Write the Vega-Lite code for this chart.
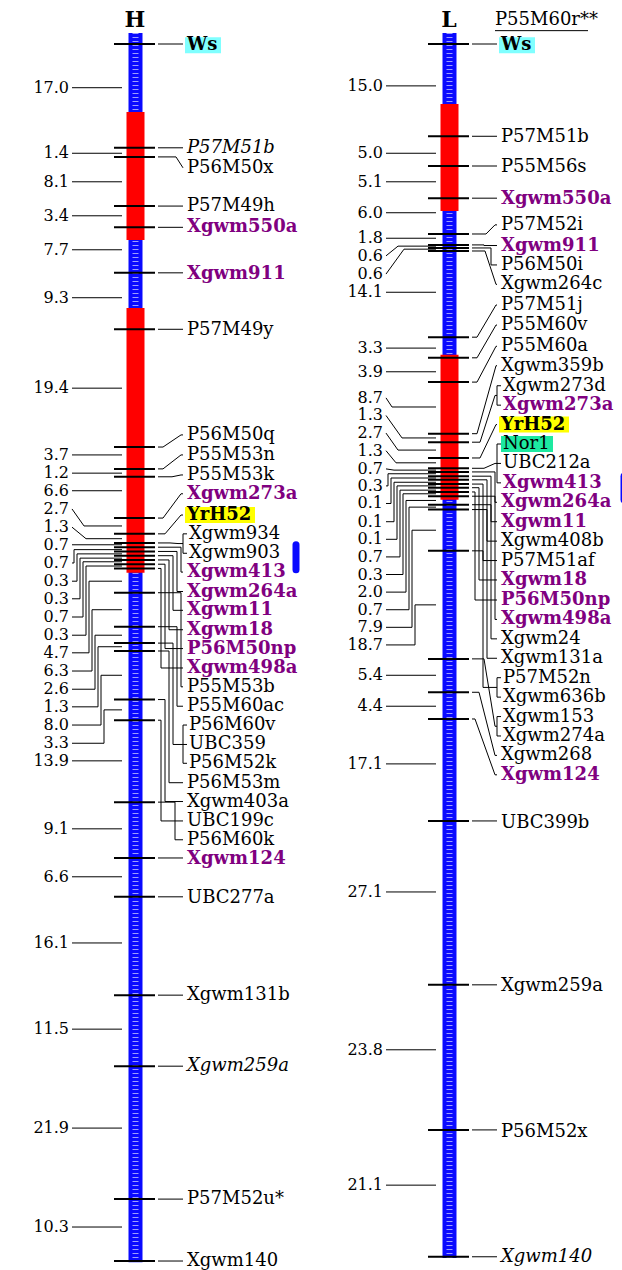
{
"$schema": "https://vega.github.io/schema/vega-lite/v6.json",
"padding": 0,
"spacing": 0,
"background": "white",
"config": {"view": {"stroke": null}, "text": {"font": "DejaVu Serif"}},
"data": {"values": [
{"kind":"bar","chrom":"H","y":-1.8,"y2":200.7},
{"kind":"bar","chrom":"L","y":-1.8,"y2":200.0},
{"kind":"red","chrom":"H","y":11.2,"y2":32.3},
{"kind":"red","chrom":"H","y":43.5,"y2":87.1},
{"kind":"red","chrom":"L","y":9.9,"y2":27.5},
{"kind":"red","chrom":"L","y":51.2,"y2":75.1},
{"kind":"qtl","chrom":"H","y":82.5,"y2":86.6},
{"kind":"qtl","chrom":"L","y":71.2,"y2":75.1},
{"kind":"chr","chrom":"H","name":"H","y":-3.9},
{"kind":"chr","chrom":"L","name":"L","y":-3.9},
{"kind":"note","chrom":"L","name":"P55M60r**","y":-3.9},

{"kind":"m","chrom":"H","y":0},
{"kind":"m","chrom":"H","y":17.1},
{"kind":"m","chrom":"H","y":18.6,"tgt":20.4,"e1":176,"e2":183},
{"kind":"m","chrom":"H","y":26.7},
{"kind":"m","chrom":"H","y":30.2},
{"kind":"m","chrom":"H","y":37.7},
{"kind":"m","chrom":"H","y":47.0},
{"kind":"m","chrom":"H","y":66.4,"tgt":64.4,"e1":163,"e2":181},
{"kind":"m","chrom":"H","y":70.0,"tgt":67.7,"e1":163,"e2":181},
{"kind":"m","chrom":"H","y":71.3,"tgt":71.0,"e1":172,"e2":181},
{"kind":"m","chrom":"H","y":78.1,"tgt":74.1,"e1":163,"e2":181},
{"kind":"m","chrom":"H","y":80.7,"tgt":77.6,"e1":165,"e2":181},
{"kind":"m","chrom":"H","y":82.2,"tgt":82.3,"e1":170,"e2":178},
{"kind":"m","chrom":"H","y":82.9,"tgt":87.0,"e":181},
{"kind":"m","chrom":"H","y":83.6,"tgt":90.2,"e":177},
{"kind":"m","chrom":"H","y":84.3,"tgt":93.3,"e":173},
{"kind":"m","chrom":"H","y":85.0,"tgt":96.5,"e":169},
{"kind":"m","chrom":"H","y":85.7,"tgt":99.6,"e":165},
{"kind":"m","chrom":"H","y":86.4,"tgt":102.8,"e":161},
{"kind":"m","chrom":"H","y":90.4,"tgt":105.9,"e":181},
{"kind":"m","chrom":"H","y":96.0,"tgt":109.1,"e":177},
{"kind":"m","chrom":"H","y":98.7,"tgt":115.4,"e":173},
{"kind":"m","chrom":"H","y":100.0,"tgt":121.7,"e":169},
{"kind":"m","chrom":"H","y":108.0,"tgt":124.8,"e":165},
{"kind":"m","chrom":"H","y":111.4,"tgt":128.0,"e":161},
{"kind":"m","chrom":"H","y":124.9,"tgt":131.1,"e":175},
{"kind":"m","chrom":"H","y":134.1},
{"kind":"m","chrom":"H","y":140.5},
{"kind":"m","chrom":"H","y":156.7},
{"kind":"m","chrom":"H","y":168.4},
{"kind":"m","chrom":"H","y":190.3},
{"kind":"m","chrom":"H","y":200.5},

{"kind":"m","chrom":"L","y":0},
{"kind":"m","chrom":"L","y":15.2},
{"kind":"m","chrom":"L","y":20.1},
{"kind":"m","chrom":"L","y":25.4},
{"kind":"m","chrom":"L","y":31.3,"tgt":29.8,"e1":172,"e2":181},
{"kind":"m","chrom":"L","y":33.1,"tgt":33.2},
{"kind":"m","chrom":"L","y":33.6,"tgt":36.4,"e":177},
{"kind":"m","chrom":"L","y":34.1,"tgt":39.6,"e1":171,"e2":182},
{"kind":"m","chrom":"L","y":48.3,"tgt":43.0,"e1":163,"e2":182},
{"kind":"m","chrom":"L","y":51.7,"tgt":46.3,"e1":163,"e2":182},
{"kind":"m","chrom":"L","y":55.7,"tgt":49.8,"e1":163,"e2":182},
{"kind":"m","chrom":"L","y":64.2,"tgt":53.0,"e1":163,"e2":182},
{"kind":"m","chrom":"L","y":65.6,"tgt":57.9,"e1":166,"e2":181},
{"kind":"m","chrom":"L","y":68.2,"tgt":62.7,"e1":166,"e2":182},
{"kind":"m","chrom":"L","y":69.9,"tgt":69.1,"e1":170,"e2":181},
{"kind":"m","chrom":"L","y":70.5,"tgt":75.5,"e":181},
{"kind":"m","chrom":"L","y":71.2,"tgt":78.7,"e":177},
{"kind":"m","chrom":"L","y":71.8,"tgt":81.9,"e":173},
{"kind":"m","chrom":"L","y":72.5,"tgt":85.1,"e":169},
{"kind":"m","chrom":"L","y":73.1,"tgt":88.3,"e":165},
{"kind":"m","chrom":"L","y":73.8,"tgt":91.6,"e":161},
{"kind":"m","chrom":"L","y":74.5,"tgt":94.8,"e":181},
{"kind":"m","chrom":"L","y":75.9,"tgt":98.0,"e":177},
{"kind":"m","chrom":"L","y":76.7,"tgt":101.2,"e":173},
{"kind":"m","chrom":"L","y":83.5,"tgt":106.0,"e":169},
{"kind":"m","chrom":"L","y":101.3,"tgt":112.4,"e1":170,"e2":181},
{"kind":"m","chrom":"L","y":106.8,"tgt":117.2,"e1":165,"e2":181},
{"kind":"m","chrom":"L","y":111.2,"tgt":120.4,"e1":161,"e2":181},
{"kind":"m","chrom":"L","y":128.0},
{"kind":"m","chrom":"L","y":155.0},
{"kind":"m","chrom":"L","y":178.9},
{"kind":"m","chrom":"L","y":199.8},

{"kind":"lab","chrom":"H","name":"Ws","y":0.2,"type":"ws"},
{"kind":"lab","chrom":"H","name":"P57M51b","y":17.1,"type":"italic"},
{"kind":"lab","chrom":"H","name":"P56M50x","y":20.4,"type":"plain"},
{"kind":"lab","chrom":"H","name":"P57M49h","y":26.7,"type":"plain"},
{"kind":"lab","chrom":"H","name":"Xgwm550a","y":30.1,"type":"ssr"},
{"kind":"lab","chrom":"H","name":"Xgwm911","y":37.9,"type":"ssr"},
{"kind":"lab","chrom":"H","name":"P57M49y","y":47.1,"type":"plain"},
{"kind":"lab","chrom":"H","name":"P56M50q","y":64.4,"type":"plain"},
{"kind":"lab","chrom":"H","name":"P55M53n","y":67.7,"type":"plain"},
{"kind":"lab","chrom":"H","name":"P55M53k","y":71.0,"type":"plain"},
{"kind":"lab","chrom":"H","name":"Xgwm273a","y":74.1,"type":"ssr"},
{"kind":"lab","chrom":"H","name":"YrH52","y":77.6,"type":"yr"},
{"kind":"lab","chrom":"H","name":"Xgwm934","y":80.7,"type":"plain","grp":"a"},
{"kind":"lab","chrom":"H","name":"Xgwm903","y":83.9,"type":"plain","grp":"a"},
{"kind":"lab","chrom":"H","name":"Xgwm413","y":87.0,"type":"ssr"},
{"kind":"lab","chrom":"H","name":"Xgwm264a","y":90.2,"type":"ssr"},
{"kind":"lab","chrom":"H","name":"Xgwm11","y":93.3,"type":"ssr"},
{"kind":"lab","chrom":"H","name":"Xgwm18","y":96.5,"type":"ssr"},
{"kind":"lab","chrom":"H","name":"P56M50np","y":99.6,"type":"ssr"},
{"kind":"lab","chrom":"H","name":"Xgwm498a","y":102.8,"type":"ssr"},
{"kind":"lab","chrom":"H","name":"P55M53b","y":105.9,"type":"plain"},
{"kind":"lab","chrom":"H","name":"P55M60ac","y":109.1,"type":"plain"},
{"kind":"lab","chrom":"H","name":"P56M60v","y":112.2,"type":"plain","grp":"b"},
{"kind":"lab","chrom":"H","name":"UBC359","y":115.4,"type":"plain","grp":"b"},
{"kind":"lab","chrom":"H","name":"P56M52k","y":118.5,"type":"plain","grp":"b"},
{"kind":"lab","chrom":"H","name":"P56M53m","y":121.7,"type":"plain"},
{"kind":"lab","chrom":"H","name":"Xgwm403a","y":124.8,"type":"plain"},
{"kind":"lab","chrom":"H","name":"UBC199c","y":128.0,"type":"plain"},
{"kind":"lab","chrom":"H","name":"P56M60k","y":131.1,"type":"plain"},
{"kind":"lab","chrom":"H","name":"Xgwm124","y":134.3,"type":"ssr"},
{"kind":"lab","chrom":"H","name":"UBC277a","y":140.7,"type":"plain"},
{"kind":"lab","chrom":"H","name":"Xgwm131b","y":156.7,"type":"plain"},
{"kind":"lab","chrom":"H","name":"Xgwm259a","y":168.4,"type":"italic"},
{"kind":"lab","chrom":"H","name":"P57M52u*","y":190.3,"type":"plain"},
{"kind":"lab","chrom":"H","name":"Xgwm140","y":200.5,"type":"plain"},

{"kind":"lab","chrom":"L","name":"Ws","y":0.2,"type":"ws"},
{"kind":"lab","chrom":"L","name":"P57M51b","y":15.3,"type":"plain"},
{"kind":"lab","chrom":"L","name":"P55M56s","y":20.3,"type":"plain"},
{"kind":"lab","chrom":"L","name":"Xgwm550a","y":25.5,"type":"ssr"},
{"kind":"lab","chrom":"L","name":"P57M52i","y":29.8,"type":"plain"},
{"kind":"lab","chrom":"L","name":"Xgwm911","y":33.2,"type":"ssr"},
{"kind":"lab","chrom":"L","name":"P56M50i","y":36.4,"type":"plain"},
{"kind":"lab","chrom":"L","name":"Xgwm264c","y":39.6,"type":"plain"},
{"kind":"lab","chrom":"L","name":"P57M51j","y":43.0,"type":"plain"},
{"kind":"lab","chrom":"L","name":"P55M60v","y":46.3,"type":"plain"},
{"kind":"lab","chrom":"L","name":"P55M60a","y":49.8,"type":"plain"},
{"kind":"lab","chrom":"L","name":"Xgwm359b","y":53.0,"type":"plain"},
{"kind":"lab","chrom":"L","name":"Xgwm273d","y":56.3,"type":"plain","grp":"c"},
{"kind":"lab","chrom":"L","name":"Xgwm273a","y":59.5,"type":"ssr","grp":"c"},
{"kind":"lab","chrom":"L","name":"YrH52","y":62.7,"type":"yr"},
{"kind":"lab","chrom":"L","name":"Nor1","y":65.9,"type":"nor","grp":"d"},
{"kind":"lab","chrom":"L","name":"UBC212a","y":69.1,"type":"plain","grp":"d"},
{"kind":"lab","chrom":"L","name":"Xgwm413","y":72.3,"type":"ssr","grp":"d"},
{"kind":"lab","chrom":"L","name":"Xgwm264a","y":75.5,"type":"ssr"},
{"kind":"lab","chrom":"L","name":"Xgwm11","y":78.7,"type":"ssr"},
{"kind":"lab","chrom":"L","name":"Xgwm408b","y":81.9,"type":"plain"},
{"kind":"lab","chrom":"L","name":"P57M51af","y":85.1,"type":"plain"},
{"kind":"lab","chrom":"L","name":"Xgwm18","y":88.3,"type":"ssr"},
{"kind":"lab","chrom":"L","name":"P56M50np","y":91.6,"type":"ssr"},
{"kind":"lab","chrom":"L","name":"Xgwm498a","y":94.8,"type":"ssr"},
{"kind":"lab","chrom":"L","name":"Xgwm24","y":98.0,"type":"plain"},
{"kind":"lab","chrom":"L","name":"Xgwm131a","y":101.2,"type":"plain"},
{"kind":"lab","chrom":"L","name":"P57M52n","y":104.4,"type":"plain","grp":"e"},
{"kind":"lab","chrom":"L","name":"Xgwm636b","y":107.6,"type":"plain","grp":"e"},
{"kind":"lab","chrom":"L","name":"Xgwm153","y":110.8,"type":"plain","grp":"f"},
{"kind":"lab","chrom":"L","name":"Xgwm274a","y":114.0,"type":"plain","grp":"f"},
{"kind":"lab","chrom":"L","name":"Xgwm268","y":117.2,"type":"plain"},
{"kind":"lab","chrom":"L","name":"Xgwm124","y":120.4,"type":"ssr"},
{"kind":"lab","chrom":"L","name":"UBC399b","y":128.3,"type":"plain"},
{"kind":"lab","chrom":"L","name":"Xgwm259a","y":155.2,"type":"plain"},
{"kind":"lab","chrom":"L","name":"P56M52x","y":179.2,"type":"plain"},
{"kind":"lab","chrom":"L","name":"Xgwm140","y":199.8,"type":"italic"},

{"kind":"iv","chrom":"H","d":"17.0","y":7.2},
{"kind":"iv","chrom":"H","d":"1.4","y":18.0},
{"kind":"iv","chrom":"H","d":"8.1","y":22.7},
{"kind":"iv","chrom":"H","d":"3.4","y":28.3},
{"kind":"iv","chrom":"H","d":"7.7","y":33.9},
{"kind":"iv","chrom":"H","d":"9.3","y":41.8},
{"kind":"iv","chrom":"H","d":"19.4","y":56.7},
{"kind":"iv","chrom":"H","d":"3.7","y":67.7},
{"kind":"iv","chrom":"H","d":"1.2","y":70.7},
{"kind":"iv","chrom":"H","d":"6.6","y":73.6},
{"kind":"iv","chrom":"H","d":"2.7","y":76.6,"mid":79.4,"e1":72,"e2":84},
{"kind":"iv","chrom":"H","d":"1.3","y":79.6,"mid":81.5,"e1":72,"e2":86},
{"kind":"iv","chrom":"H","d":"0.7","y":82.5,"mid":82.5,"e1":72,"e2":80},
{"kind":"iv","chrom":"H","d":"0.7","y":85.5,"mid":83.3,"e":74},
{"kind":"iv","chrom":"H","d":"0.3","y":88.5,"mid":84.0,"e":77},
{"kind":"iv","chrom":"H","d":"0.3","y":91.4,"mid":84.7,"e":80},
{"kind":"iv","chrom":"H","d":"0.7","y":94.4,"mid":85.3,"e":83},
{"kind":"iv","chrom":"H","d":"0.3","y":97.4,"mid":86.0,"e":86},
{"kind":"iv","chrom":"H","d":"4.7","y":100.3,"mid":88.5,"e":89},
{"kind":"iv","chrom":"H","d":"6.3","y":103.3,"mid":93.2,"e":92},
{"kind":"iv","chrom":"H","d":"2.6","y":106.3,"mid":97.4,"e":95},
{"kind":"iv","chrom":"H","d":"1.3","y":109.2,"mid":99.3,"e":98},
{"kind":"iv","chrom":"H","d":"8.0","y":112.2,"mid":104.0,"e":101},
{"kind":"iv","chrom":"H","d":"3.3","y":115.2,"mid":109.7,"e":104},
{"kind":"iv","chrom":"H","d":"13.9","y":118.1},
{"kind":"iv","chrom":"H","d":"9.1","y":129.3},
{"kind":"iv","chrom":"H","d":"6.6","y":137.2},
{"kind":"iv","chrom":"H","d":"16.1","y":148.1},
{"kind":"iv","chrom":"H","d":"11.5","y":162.3},
{"kind":"iv","chrom":"H","d":"21.9","y":178.6},
{"kind":"iv","chrom":"H","d":"10.3","y":194.9},

{"kind":"iv","chrom":"L","d":"15.0","y":6.9},
{"kind":"iv","chrom":"L","d":"5.0","y":18.0},
{"kind":"iv","chrom":"L","d":"5.1","y":22.7},
{"kind":"iv","chrom":"L","d":"6.0","y":27.8},
{"kind":"iv","chrom":"L","d":"1.8","y":32.0},
{"kind":"iv","chrom":"L","d":"0.6","y":34.9,"mid":33.3,"e1":72,"e2":84},
{"kind":"iv","chrom":"L","d":"0.6","y":37.9,"mid":33.8,"e1":72,"e2":90},
{"kind":"iv","chrom":"L","d":"14.1","y":40.9},
{"kind":"iv","chrom":"L","d":"3.3","y":50.1},
{"kind":"iv","chrom":"L","d":"3.9","y":54.0},
{"kind":"iv","chrom":"L","d":"8.7","y":58.3,"mid":59.8,"e1":72,"e2":78},
{"kind":"iv","chrom":"L","d":"1.3","y":61.2,"mid":64.9,"e1":72,"e2":88},
{"kind":"iv","chrom":"L","d":"2.7","y":64.1,"mid":66.9,"e1":72,"e2":84},
{"kind":"iv","chrom":"L","d":"1.3","y":67.0,"mid":69.0,"e1":72,"e2":82},
{"kind":"iv","chrom":"L","d":"0.7","y":70.0,"mid":70.2,"e1":72,"e2":80},
{"kind":"iv","chrom":"L","d":"0.3","y":72.8,"mid":70.8,"e":74},
{"kind":"iv","chrom":"L","d":"0.1","y":75.7,"mid":71.5,"e":77},
{"kind":"iv","chrom":"L","d":"0.1","y":78.7,"mid":72.2,"e":80},
{"kind":"iv","chrom":"L","d":"0.1","y":81.6,"mid":72.8,"e":83},
{"kind":"iv","chrom":"L","d":"0.7","y":84.5,"mid":73.5,"e":86},
{"kind":"iv","chrom":"L","d":"0.3","y":87.4,"mid":74.1,"e":89},
{"kind":"iv","chrom":"L","d":"2.0","y":90.3,"mid":75.2,"e":92},
{"kind":"iv","chrom":"L","d":"0.7","y":93.2,"mid":76.3,"e":95},
{"kind":"iv","chrom":"L","d":"7.9","y":96.1,"mid":80.1,"e":98},
{"kind":"iv","chrom":"L","d":"18.7","y":99.0,"mid":92.4,"e":101},
{"kind":"iv","chrom":"L","d":"5.4","y":104.0},
{"kind":"iv","chrom":"L","d":"4.4","y":109.1},
{"kind":"iv","chrom":"L","d":"17.1","y":118.6},
{"kind":"iv","chrom":"L","d":"27.1","y":139.7},
{"kind":"iv","chrom":"L","d":"23.8","y":165.7},
{"kind":"iv","chrom":"L","d":"21.1","y":188.0}
]},
"transform": [
 {"calculate": "isValid(datum.e1) ? datum.e1 : (isValid(datum.e) ? datum.e : (datum.kind === 'm' ? 170 : 100))", "as": "e1c"},
 {"calculate": "isValid(datum.e2) ? datum.e2 : (isValid(datum.e) ? datum.e : (datum.kind === 'm' ? 170 : 100))", "as": "e2c"},
 {"calculate": "isValid(datum.tgt) ? datum.tgt : datum.y", "as": "tg"},
 {"calculate": "isValid(datum.mid) ? datum.mid : datum.y", "as": "md"},
 {"calculate": "isValid(datum.grp) ? 189 : 187", "as": "lx"},
 {"calculate": "135.5", "as": "xBar"},
 {"calculate": "114", "as": "xT1"},
 {"calculate": "155", "as": "xT2"},
 {"calculate": "158", "as": "xR0"},
 {"calculate": "183", "as": "xR3"},
 {"calculate": "187", "as": "xB2"},
 {"calculate": "72", "as": "xL0"},
 {"calculate": "122", "as": "xL3"},
 {"calculate": "69", "as": "xLT"},
 {"calculate": "135", "as": "xChr"},
 {"calculate": "181", "as": "xN1"},
 {"calculate": "274", "as": "xN2"},
 {"calculate": "datum.chrom === 'H' ? 296 : 310", "as": "xQ"}
],
"facet": {"column": {"field": "chrom", "type": "nominal", "title": null, "header": {"labels": false, "title": null, "labelPadding": 0, "titlePadding": 0}}},
"spec": {
 "width": 311,
 "height": 1270,
 "layer": [
  {"transform": [{"filter": "datum.kind === 'bar'"}], "mark": {"type": "rule", "color": "#0a0aff", "strokeWidth": 14, "strokeCap": "butt"}, "encoding": {
    "x": {"field": "xBar", "type": "quantitative", "scale": {"domain": [0, 311], "nice": false, "zero": false}, "axis": null},
    "y": {"field": "y", "type": "quantitative", "scale": {"domain": [-7.25, 201.98], "reverse": true, "nice": false, "zero": false}, "axis": null},
    "y2": {"field": "y2"}}},
  {"transform": [{"filter": "datum.kind === 'bar'"}], "mark": {"type": "rule", "color": "white", "strokeWidth": 6, "strokeDash": [1, 3], "opacity": 0.6, "strokeCap": "butt"}, "encoding": {
    "x": {"field": "xBar", "type": "quantitative"}, "y": {"field": "y", "type": "quantitative"}, "y2": {"field": "y2"}}},
  {"transform": [{"filter": "datum.kind === 'red'"}], "mark": {"type": "rule", "color": "#ff0000", "strokeWidth": 18, "strokeCap": "butt"}, "encoding": {
    "x": {"field": "xBar", "type": "quantitative"}, "y": {"field": "y", "type": "quantitative"}, "y2": {"field": "y2"}}},
  {"transform": [{"filter": "datum.kind === 'm'"}], "mark": {"type": "rule", "color": "black", "strokeWidth": 2}, "encoding": {
    "x": {"field": "xT1", "type": "quantitative"}, "x2": {"field": "xT2"}, "y": {"field": "y", "type": "quantitative"}}},
  {"transform": [{"filter": "datum.kind === 'm'"}], "mark": {"type": "rule", "color": "black", "strokeWidth": 1}, "encoding": {
    "x": {"field": "xR0", "type": "quantitative"}, "x2": {"field": "e1c"}, "y": {"field": "y", "type": "quantitative"}}},
  {"transform": [{"filter": "datum.kind === 'm'"}], "mark": {"type": "rule", "color": "black", "strokeWidth": 1}, "encoding": {
    "x": {"field": "e1c", "type": "quantitative"}, "x2": {"field": "e2c"}, "y": {"field": "y", "type": "quantitative"}, "y2": {"field": "tg"}}},
  {"transform": [{"filter": "datum.kind === 'm'"}], "mark": {"type": "rule", "color": "black", "strokeWidth": 1}, "encoding": {
    "x": {"field": "e2c", "type": "quantitative"}, "x2": {"field": "xR3"}, "y": {"field": "tg", "type": "quantitative"}}},
  {"transform": [{"filter": "datum.kind === 'iv'"}], "mark": {"type": "rule", "color": "black", "strokeWidth": 1}, "encoding": {
    "x": {"field": "xL0", "type": "quantitative"}, "x2": {"field": "e1c"}, "y": {"field": "y", "type": "quantitative"}}},
  {"transform": [{"filter": "datum.kind === 'iv'"}], "mark": {"type": "rule", "color": "black", "strokeWidth": 1}, "encoding": {
    "x": {"field": "e1c", "type": "quantitative"}, "x2": {"field": "e2c"}, "y": {"field": "y", "type": "quantitative"}, "y2": {"field": "md"}}},
  {"transform": [{"filter": "datum.kind === 'iv'"}], "mark": {"type": "rule", "color": "black", "strokeWidth": 1}, "encoding": {
    "x": {"field": "e2c", "type": "quantitative"}, "x2": {"field": "xL3"}, "y": {"field": "md", "type": "quantitative"}}},
  {"transform": [{"filter": "datum.kind === 'lab' && isValid(datum.grp)"}, {"aggregate": [{"op": "min", "field": "y", "as": "y"}, {"op": "max", "field": "y", "as": "y2"}, {"op": "max", "field": "xR3", "as": "bx"}], "groupby": ["chrom", "grp"]}], "mark": {"type": "rule", "color": "black", "strokeWidth": 1}, "encoding": {
    "x": {"field": "bx", "type": "quantitative"}, "y": {"field": "y", "type": "quantitative"}, "y2": {"field": "y2"}}},
  {"transform": [{"filter": "datum.kind === 'lab' && isValid(datum.grp)"}], "mark": {"type": "rule", "color": "black", "strokeWidth": 1}, "encoding": {
    "x": {"field": "xR3", "type": "quantitative"}, "x2": {"field": "xB2"}, "y": {"field": "y", "type": "quantitative"}}},
  {"transform": [{"filter": "datum.kind === 'lab' && (datum.type === 'ws' || datum.type === 'yr' || datum.type === 'nor')"}, {"calculate": "datum.lx - 2", "as": "bx1"}, {"calculate": "datum.lx - 2 + (datum.name === 'Ws' ? 36 : (datum.name === 'YrH52' ? 70 : 52))", "as": "bx2"}], "mark": {"type": "rule", "strokeWidth": 16, "strokeCap": "butt"}, "encoding": {
    "x": {"field": "bx1", "type": "quantitative"}, "x2": {"field": "bx2"}, "y": {"field": "y", "type": "quantitative"},
    "color": {"field": "type", "type": "nominal", "scale": {"domain": ["ws", "yr", "nor"], "range": ["#80ffff", "#ffff00", "#1de9a0"]}, "legend": null}}},
  {"transform": [{"filter": "datum.kind === 'lab' && (datum.type === 'plain' || datum.type === 'nor')"}], "mark": {"type": "text", "align": "left", "baseline": "middle", "font": "DejaVu Serif", "fontSize": 18, "color": "black"}, "encoding": {
    "x": {"field": "lx", "type": "quantitative"}, "y": {"field": "y", "type": "quantitative"}, "text": {"field": "name", "type": "nominal"}}},
  {"transform": [{"filter": "datum.kind === 'lab' && (datum.type === 'ws' || datum.type === 'yr')"}], "mark": {"type": "text", "align": "left", "baseline": "middle", "font": "DejaVu Serif", "fontSize": 18, "fontWeight": "bold", "color": "black"}, "encoding": {
    "x": {"field": "lx", "type": "quantitative"}, "y": {"field": "y", "type": "quantitative"}, "text": {"field": "name", "type": "nominal"}}},
  {"transform": [{"filter": "datum.kind === 'lab' && datum.type === 'ssr'"}], "mark": {"type": "text", "align": "left", "baseline": "middle", "font": "DejaVu Serif", "fontSize": 18, "fontWeight": "bold", "color": "#800080"}, "encoding": {
    "x": {"field": "lx", "type": "quantitative"}, "y": {"field": "y", "type": "quantitative"}, "text": {"field": "name", "type": "nominal"}}},
  {"transform": [{"filter": "datum.kind === 'lab' && datum.type === 'italic'"}], "mark": {"type": "text", "align": "left", "baseline": "middle", "font": "DejaVu Serif", "fontSize": 18, "fontStyle": "italic", "color": "black"}, "encoding": {
    "x": {"field": "lx", "type": "quantitative"}, "y": {"field": "y", "type": "quantitative"}, "text": {"field": "name", "type": "nominal"}}},
  {"transform": [{"filter": "datum.kind === 'iv'"}], "mark": {"type": "text", "align": "right", "baseline": "middle", "font": "DejaVu Serif", "fontSize": 16, "color": "black"}, "encoding": {
    "x": {"field": "xLT", "type": "quantitative"}, "y": {"field": "y", "type": "quantitative"}, "text": {"field": "d", "type": "nominal"}}},
  {"transform": [{"filter": "datum.kind === 'qtl'"}], "mark": {"type": "rule", "color": "#0a0aff", "strokeWidth": 7, "strokeCap": "round"}, "encoding": {
    "x": {"field": "xQ", "type": "quantitative"}, "y": {"field": "y", "type": "quantitative"}, "y2": {"field": "y2"}}},
  {"transform": [{"filter": "datum.kind === 'chr'"}], "mark": {"type": "text", "align": "center", "baseline": "middle", "font": "DejaVu Serif", "fontSize": 22, "fontWeight": "bold", "color": "black"}, "encoding": {
    "x": {"field": "xChr", "type": "quantitative"}, "y": {"field": "y", "type": "quantitative"}, "text": {"field": "name", "type": "nominal"}}},
  {"transform": [{"filter": "datum.kind === 'note'"}], "mark": {"type": "text", "align": "left", "baseline": "middle", "font": "DejaVu Serif", "fontSize": 18, "color": "black"}, "encoding": {
    "x": {"field": "xN1", "type": "quantitative"}, "y": {"field": "y", "type": "quantitative"}, "text": {"field": "name", "type": "nominal"}}},
  {"transform": [{"filter": "datum.kind === 'note'"}, {"calculate": "datum.y + 1.7", "as": "uy"}], "mark": {"type": "rule", "color": "black", "strokeWidth": 1}, "encoding": {
    "x": {"field": "xN1", "type": "quantitative"}, "x2": {"field": "xN2"}, "y": {"field": "uy", "type": "quantitative"}}}
 ]
}
}
